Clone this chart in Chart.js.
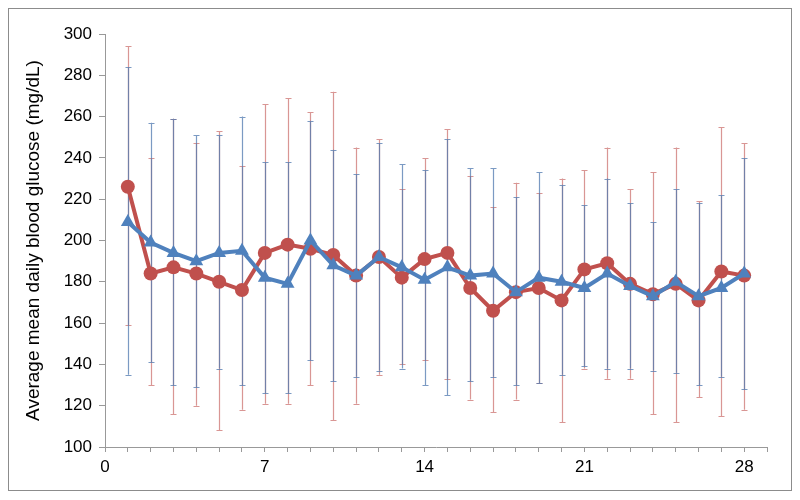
<!DOCTYPE html>
<html>
<head>
<meta charset="utf-8">
<script src="https://cdn.jsdelivr.net/npm/chart.js@4/dist/chart.umd.min.js"></script>
<style>
  html, body { margin: 0; padding: 0; background: #fff; }
  #wrap { width: 800px; height: 500px; }
</style>
</head>
<body>
<div id="wrap"><canvas id="ctx_glucose"></canvas></div>
<script>
// day number for each point
var days = [1, 2, 3, 4, 5, 6, 7, 8, 9, 10, 11, 12, 13, 14, 15, 16, 17, 18, 19, 20, 21, 22, 23, 24, 25, 26, 27, 28];

// red series (circles)
var red_mean = [226, 184, 187, 184, 180, 176, 194, 198, 196, 193, 183, 192, 182, 191, 194, 177, 166, 175, 177, 171, 186, 189, 179, 174, 179, 171, 185, 183];
var red_hi   = [294, 240, 259, 247, 253, 236, 266, 269, 262, 272, 245, 249, 225, 240, 254, 231, 216, 228, 223, 230, 234, 245, 225, 233, 245, 219, 255, 247];
var red_lo   = [159, 130, 116, 120, 108, 118, 121, 121, 130, 113, 121, 135, 140, 142, 133, 123, 117, 123, 131, 112, 138, 133, 133, 116, 112, 124, 115, 118];

// blue series (triangles)
var blue_mean = [209, 199, 194, 190, 194, 195, 182, 179, 200, 188, 183, 192, 187, 181, 187, 183, 184, 175, 182, 180, 177, 184, 178, 173, 180, 173, 177, 184];
var blue_hi   = [284, 257, 259, 251, 251, 260, 238, 238, 258, 244, 232, 247, 237, 234, 249, 235, 235, 221, 233, 227, 217, 230, 218, 209, 225, 218, 222, 240];
var blue_lo   = [135, 141, 130, 129, 138, 130, 126, 126, 142, 132, 134, 137, 138, 130, 125, 132, 134, 130, 131, 135, 139, 138, 138, 137, 136, 130, 134, 128];

var x_labels = [0, 7, 14, 21, 28];
var y_title = 'Average mean daily blood glucose (mg/dL)';

var red_color = '#C0504D';
var blue_color = '#4F81BD';

function to_points(means) {
    return days.map(function (d, i) { return { x: d, y: means[i] }; });
}

// draws the whiskers through the chart's own scales, behind the lines
var error_bars = {
    id: 'error_bars',
    beforeDatasetsDraw: function (chart) {
        var ctx = chart.ctx;
        var xs = chart.scales.x, ys = chart.scales.y;
        var sets = [
            { hi: red_hi, lo: red_lo, color: 'rgba(192,80,77,0.6)' },
            { hi: blue_hi, lo: blue_lo, color: 'rgba(79,120,175,0.75)' }
        ];
        ctx.save();
        ctx.lineWidth = 1.2;
        sets.forEach(function (s) {
            ctx.strokeStyle = s.color;
            days.forEach(function (d, i) {
                var px = Math.round(xs.getPixelForValue(d)) + 0.5;
                var top = ys.getPixelForValue(s.hi[i]);
                var bot = ys.getPixelForValue(s.lo[i]);
                ctx.beginPath();
                ctx.moveTo(px, top);
                ctx.lineTo(px, bot);
                ctx.moveTo(px - 3, Math.round(top) + 0.5);
                ctx.lineTo(px + 3, Math.round(top) + 0.5);
                ctx.moveTo(px - 3, Math.round(bot) + 0.5);
                ctx.lineTo(px + 3, Math.round(bot) + 0.5);
                ctx.stroke();
            });
        });
        ctx.restore();
    }
};

var frame = {
    id: 'frame',
    beforeDraw: function (chart) {
        var ctx = chart.ctx;
        ctx.save();
        ctx.fillStyle = '#fff';
        ctx.fillRect(0, 0, chart.width, chart.height);
        ctx.strokeStyle = '#8c8c8c';
        ctx.lineWidth = 1;
        ctx.strokeRect(8.5, 8.5, 783, 482);
        ctx.restore();
    }
};

Chart.defaults.font.family = '"Liberation Sans", Arial, sans-serif';
Chart.defaults.font.size = 17;
Chart.defaults.color = '#000';

var chart_glucose = new Chart(document.getElementById('ctx_glucose').getContext('2d'), {
    type: 'line',
    data: {
        datasets: [{
            label: 'red',
            data: to_points(red_mean),
            borderColor: red_color,
            backgroundColor: red_color,
            borderWidth: 4,
            pointStyle: 'circle',
            pointRadius: 7,
            pointBorderWidth: 0,
            tension: 0,
            order: 1
        }, {
            label: 'blue',
            data: to_points(blue_mean),
            borderColor: blue_color,
            backgroundColor: blue_color,
            borderWidth: 4,
            pointStyle: 'triangle',
            pointRadius: 8,
            pointBorderWidth: 0,
            tension: 0,
            order: 0
        }]
    },
    options: {
        responsive: true,
        maintainAspectRatio: false,
        animation: false,
        layout: { padding: { left: 0, top: 34, right: 33, bottom: 0 } },
        plugins: {
            legend: { display: false },
            tooltip: { enabled: false }
        },
        scales: {
            x: {
                type: 'linear',
                min: 0,
                max: 29,
                afterFit: function (scale) { scale.height = 53; },
                border: { color: '#999', width: 1 },
                grid: { drawOnChartArea: false, tickLength: 5, color: '#999' },
                ticks: {
                    stepSize: 1,
                    autoSkip: false,
                    maxRotation: 0,
                    padding: 5,
                    callback: function (v) { return x_labels.indexOf(v) >= 0 ? String(v) : ''; }
                }
            },
            y: {
                min: 100,
                max: 300,
                afterFit: function (scale) { scale.width = 105; },
                border: { color: '#999', width: 1 },
                grid: { drawOnChartArea: false, tickLength: 6, color: '#999' },
                ticks: { stepSize: 20, padding: 7 },
                title: {
                    display: true,
                    text: y_title,
                    font: { size: 19 },
                    padding: { top: 22, bottom: 0 }
                }
            }
        }
    },
    plugins: [frame, error_bars]
});
</script>
</body>
</html>
